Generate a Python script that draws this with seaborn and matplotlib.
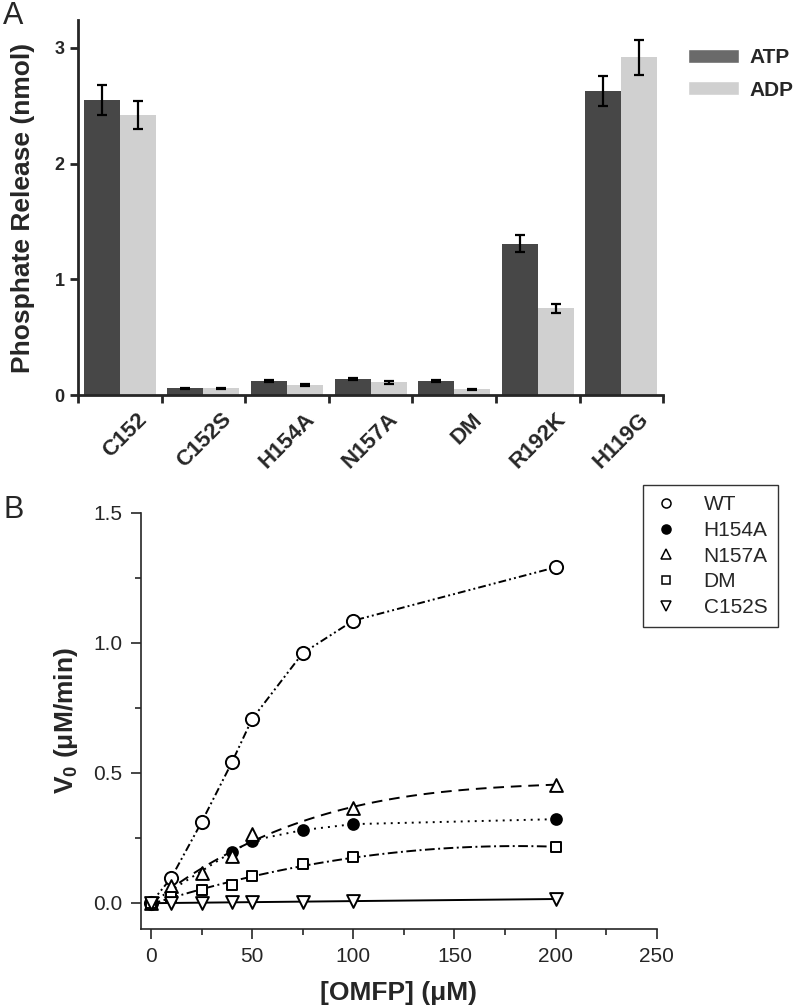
import numpy as np
import pandas as pd
import matplotlib
matplotlib.use("Agg")
import matplotlib.pyplot as plt
import matplotlib.transforms as mtransforms
import seaborn as sns
from matplotlib.patches import Patch
from matplotlib.lines import Line2D
from matplotlib.ticker import MultipleLocator, FixedLocator, FormatStrFormatter

# -----------------------------
# DATA - panel A (phosphate release)
# -----------------------------
variants = ["C152", "C152S", "H154A", "N157A", "DM", "R192K", "H119G"]
atp_mean = [2.55, 0.06, 0.12, 0.14, 0.12, 1.31, 2.63]
atp_err = [0.13, 0.005, 0.01, 0.01, 0.01, 0.07, 0.13]
adp_mean = [2.42, 0.06, 0.09, 0.11, 0.05, 0.75, 2.92]
adp_err = [0.12, 0.005, 0.01, 0.01, 0.005, 0.04, 0.15]

# -----------------------------
# DATA - panel B (V0 vs OMFP)
# -----------------------------
wt_x = [0, 10, 25, 40, 50, 75, 100, 200]
wt_y = [0.0, 0.096, 0.31, 0.54, 0.707, 0.96, 1.085, 1.29]
h154a_x = [0, 40, 50, 75, 100, 200]
h154a_y = [0.0, 0.196, 0.24, 0.28, 0.303, 0.322]
n157a_x = [0, 10, 25, 40, 50, 100, 200]
n157a_y = [0.0, 0.064, 0.117, 0.18, 0.265, 0.365, 0.455]
dm_x = [0, 10, 25, 40, 50, 75, 100, 200]
dm_y = [0.0, 0.023, 0.049, 0.068, 0.104, 0.148, 0.177, 0.215]
c152s_x = [0, 10, 25, 40, 50, 75, 100, 200]
c152s_y = [0.0, 0.0, 0.0, 0.002, 0.003, 0.005, 0.008, 0.015]

# -----------------------------
# STYLE
# -----------------------------
sns.set_style("ticks")
plt.rcParams["font.family"] = ["Liberation Sans", "DejaVu Sans"]
plt.rcParams["mathtext.fontset"] = "custom"
plt.rcParams["mathtext.rm"] = "Liberation Sans"
plt.rcParams["mathtext.bf"] = "Liberation Sans:bold"

fig = plt.figure(figsize=(8, 10.08), dpi=100)

# -----------------------------
# PANEL A
# -----------------------------
axA = fig.add_axes([0.0975, 0.608, 0.7315, 0.372])

dfA = pd.DataFrame({
    "variant": variants * 2,
    "release": atp_mean + adp_mean,
    "nucleotide": ["ATP"] * len(variants) + ["ADP"] * len(variants),
})
errs = {"ATP": atp_err, "ADP": adp_err}

sns.barplot(data=dfA, x="variant", y="release", hue="nucleotide",
            order=variants, hue_order=["ATP", "ADP"],
            palette=["#474747", "#d0d0d0"], width=0.86,
            linewidth=0, errorbar=None, legend=False, ax=axA)

for cont, name in zip(axA.containers, ["ATP", "ADP"]):
    xs = [b.get_x() + b.get_width() / 2 for b in cont]
    hs = [b.get_height() for b in cont]
    axA.errorbar(xs, hs, yerr=errs[name], fmt="none", ecolor="black",
                 elinewidth=1.6, capsize=3.5, capthick=1.6, zorder=3)

axA.set_xlim(-0.5, len(variants) - 0.5)
axA.set_ylim(0, 3.24)
axA.set_yticks([0, 1, 2, 3])
axA.xaxis.set_minor_locator(FixedLocator(np.arange(-0.5, len(variants), 1)))
axA.tick_params(axis="x", which="major", length=0, pad=10)
axA.tick_params(axis="x", which="minor", length=6, width=2, direction="out")
axA.tick_params(axis="y", length=6, width=2, direction="out", labelsize=13)

# rotated labels, shifted right so they end near the group centre
offset = mtransforms.ScaledTranslation(0.17, 0.0, fig.dpi_scale_trans)
for lab in axA.get_xticklabels():
    lab.set_rotation(45)
    lab.set_ha("right")
    lab.set_rotation_mode("anchor")
    lab.set_fontsize(16)
    lab.set_fontweight("bold")
    lab.set_transform(lab.get_transform() + offset)
for lab in axA.get_yticklabels():
    lab.set_fontweight("bold")

axA.set_xlabel("")
axA.set_ylabel("Phosphate Release (nmol)", fontsize=19, fontweight="bold", labelpad=14)
for s in ["left", "bottom"]:
    axA.spines[s].set_linewidth(2)
sns.despine(ax=axA)

fig.legend(handles=[Patch(facecolor="#6a6a6a", label="ATP"),
                    Patch(facecolor="#d0d0d0", label="ADP")],
           loc="upper left", bbox_to_anchor=(0.836, 0.971), frameon=False,
           prop={"size": 15, "weight": "bold"}, handlelength=2.45,
           handleheight=0.68, handletextpad=0.5, labelspacing=0.65)

fig.text(0.004, 0.999, "A", fontsize=22, va="top", ha="left")

# -----------------------------
# PANEL B
# -----------------------------
axB = fig.add_axes([0.176, 0.0784, 0.645, 0.413])

# fit: polynomial order for regplot, or "connect" to join the points
series = [
    # name, x, y, marker, face, size, fit, dashes
    ("WT", wt_x, wt_y, "o", "white", 90, "connect", (4, 1.6, 1, 1.6, 1, 1.6)),
    ("H154A", h154a_x, h154a_y, "o", "black", 60, "connect", (1, 2.6)),
    ("N157A", n157a_x, n157a_y, "^", "white", 85, 3, (5.5, 3.5)),
    ("DM", dm_x, dm_y, "s", "white", 45, 2, (5, 1.8, 1, 1.8)),
    ("C152S", c152s_x, c152s_y, "v", "white", 85, 1, None),
]

for name, xs, ys, mk, face, size, fit, dash in series:
    d = pd.DataFrame({"omfp": xs, "v0": ys})
    line_kws = dict(color="black", lw=1.4)
    if dash is not None:
        line_kws["dashes"] = dash
    if fit == "connect":
        sns.lineplot(data=d, x="omfp", y="v0", ax=axB, **line_kws)
    else:
        sns.regplot(data=d, x="omfp", y="v0", order=fit, ci=None,
                    scatter=False, truncate=True, line_kws=line_kws, ax=axB)

for name, xs, ys, mk, face, size, fit, dash in series:
    d = pd.DataFrame({"omfp": xs, "v0": ys})
    sns.scatterplot(data=d, x="omfp", y="v0", marker=mk, s=size,
                    color=face, edgecolor="black", linewidth=1.4,
                    zorder=4, ax=axB)

axB.set_xlim(-5, 250)
axB.set_ylim(-0.1, 1.5)
axB.set_xticks([0, 50, 100, 150, 200, 250])
axB.set_yticks([0.0, 0.5, 1.0, 1.5])
axB.yaxis.set_major_formatter(FormatStrFormatter("%.1f"))
axB.xaxis.set_minor_locator(MultipleLocator(25))
axB.yaxis.set_minor_locator(MultipleLocator(0.25))
axB.tick_params(which="major", length=7, width=1.2, direction="out", labelsize=15, pad=6)
axB.tick_params(which="minor", length=4, width=1.2, direction="out")
for s in ["left", "bottom"]:
    axB.spines[s].set_linewidth(1.2)
sns.despine(ax=axB)

axB.set_xlabel("[OMFP] (μM)", fontsize=19, fontweight="bold", labelpad=11)
axB.set_ylabel(r"V$_{\mathbf{0}}$ (μM/min)", fontsize=19, fontweight="bold", labelpad=10)

handlesB = []
for name, xs, ys, mk, face, size, fit, dash in series:
    handlesB.append(Line2D([], [], linestyle="none", marker=mk,
                           markersize=6.5 if mk != "s" else 5.5,
                           markerfacecolor=face, markeredgecolor="black",
                           markeredgewidth=1.1, label=name))
legB = fig.legend(handles=handlesB, loc="upper left", bbox_to_anchor=(0.804, 0.519),
                  frameon=True, fancybox=False, edgecolor="black", fontsize=15,
                  handlelength=1.2, handletextpad=1.2, labelspacing=0.32,
                  borderpad=0.5, borderaxespad=0)
legB.get_frame().set_linewidth(1.0)

fig.text(0.004, 0.509, "B", fontsize=22, va="top", ha="left")

fig.savefig("out.png", dpi=100)
